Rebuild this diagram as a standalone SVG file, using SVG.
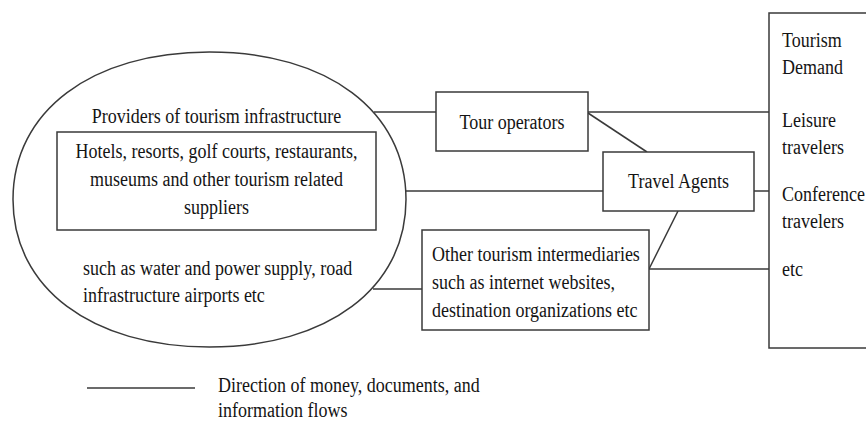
<svg xmlns="http://www.w3.org/2000/svg" width="866" height="425" viewBox="0 0 866 425">
  <style>
    .shape { fill: #ffffff; stroke: #3a3a3a; stroke-width: 1.5; }
    .link { fill: none; stroke: #3a3a3a; stroke-width: 1.5; }
    .lbl { font-family: "Liberation Serif", "Times New Roman", serif; font-size: 18px; fill: #141414; }
    .mid { text-anchor: middle; }
  </style>
  <rect width="866" height="425" fill="#ffffff"/>

  <!-- connectors -->
  <g id="connectors">
    <line class="link" x1="374" y1="112" x2="436" y2="112"/>
    <line class="link" x1="588" y1="112" x2="769" y2="112"/>
    <line class="link" x1="588" y1="113" x2="647" y2="152"/>
    <line class="link" x1="405" y1="191" x2="603" y2="191"/>
    <line class="link" x1="754" y1="191" x2="769" y2="191"/>
    <line class="link" x1="678" y1="211" x2="649" y2="269"/>
    <line class="link" x1="649" y1="269" x2="769" y2="269"/>
    <line class="link" x1="373" y1="289" x2="422" y2="289"/>
  </g>

  <!-- supply side: infrastructure providers (slightly squared oval) -->
  <g id="providers">
    <path class="shape" d="M406,199.5 C406,111 327.4,52 209.5,52 C91.6,52 13,111 13,199.5 C13,288 91.6,347 209.5,347 C327.4,347 406,288 406,199.5 Z"/>
    <text class="lbl mid" transform="translate(216.5 123) scale(1 1.2)">Providers of tourism infrastructure</text>
    <text class="lbl" transform="translate(83 275) scale(1 1.2)">such as water and power supply, road</text>
    <text class="lbl" transform="translate(83 302) scale(1 1.2)">infrastructure airports etc</text>
  </g>

  <g id="suppliers">
    <rect class="shape" x="57" y="132" width="319" height="98"/>
    <text class="lbl mid" transform="translate(216.5 158) scale(1 1.2)">Hotels, resorts, golf courts, restaurants,</text>
    <text class="lbl mid" transform="translate(216.5 186) scale(1 1.2)">museums and other tourism related</text>
    <text class="lbl mid" transform="translate(216.5 214) scale(1 1.2)">suppliers</text>
  </g>

  <g id="tour-operators">
    <rect class="shape" x="436" y="92" width="152" height="59"/>
    <text class="lbl mid" transform="translate(512 129) scale(1 1.2)">Tour operators</text>
  </g>

  <g id="travel-agents">
    <rect class="shape" x="603" y="152" width="151" height="59"/>
    <text class="lbl mid" transform="translate(678.5 188) scale(1 1.2)">Travel Agents</text>
  </g>

  <g id="other-intermediaries">
    <rect class="shape" x="422" y="230" width="227" height="100"/>
    <text class="lbl" transform="translate(432 261) scale(1 1.2)">Other tourism intermediaries</text>
    <text class="lbl" transform="translate(432 289) scale(1 1.2)">such as internet websites,</text>
    <text class="lbl" transform="translate(432 317) scale(1 1.2)">destination organizations etc</text>
  </g>

  <!-- demand side -->
  <g id="tourism-demand">
    <rect class="shape" x="769" y="13" width="120" height="335"/>
    <text class="lbl" transform="translate(782 47) scale(1 1.2)">Tourism</text>
    <text class="lbl" transform="translate(782 74) scale(1 1.2)">Demand</text>
    <text class="lbl" transform="translate(782 127) scale(1 1.2)">Leisure</text>
    <text class="lbl" transform="translate(782 154) scale(1 1.2)">travelers</text>
    <text class="lbl" transform="translate(782 201) scale(1 1.2)">Conference</text>
    <text class="lbl" transform="translate(782 228) scale(1 1.2)">travelers</text>
    <text class="lbl" transform="translate(782 276) scale(1 1.2)">etc</text>
  </g>

  <!-- legend -->
  <g id="legend">
    <line class="link" x1="87" y1="388" x2="195" y2="388"/>
    <text class="lbl" transform="translate(218 392) scale(1 1.2)">Direction of money, documents, and</text>
    <text class="lbl" transform="translate(218 417) scale(1 1.2)">information flows</text>
  </g>
</svg>
